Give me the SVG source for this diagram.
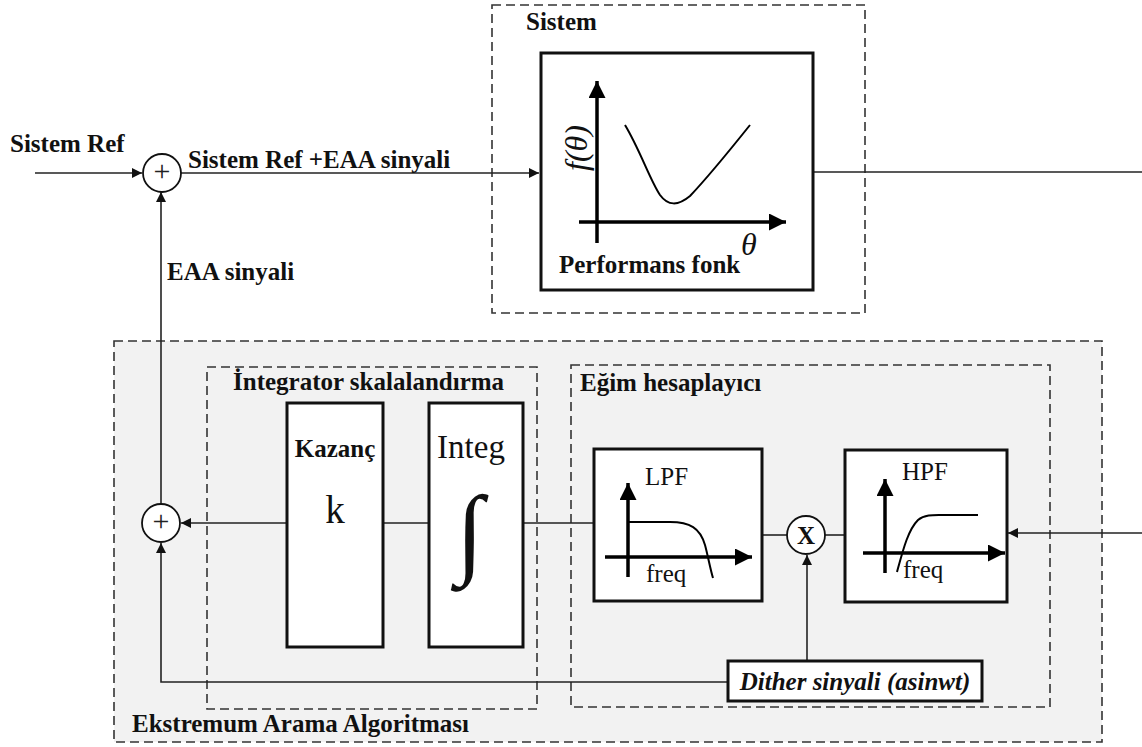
<svg xmlns="http://www.w3.org/2000/svg" width="1142" height="747" viewBox="0 0 1142 747">
<defs>
<marker id="arr" viewBox="0 0 10 10" refX="10" refY="5" markerWidth="11" markerHeight="10" markerUnits="userSpaceOnUse" orient="auto"><path d="M0,0 L10,5 L0,10 z" fill="#111"/></marker>
<marker id="axa" viewBox="0 0 10 10" refX="10" refY="5" markerWidth="23" markerHeight="17" markerUnits="userSpaceOnUse" orient="auto"><path d="M0,0 L10,5 L0,10 z" fill="#000"/></marker>
</defs>
<style>
.dash{fill:none;stroke:#333;stroke-width:1.6;stroke-dasharray:9 5}
.blk{fill:#fff;stroke:#111;stroke-width:3}
.ln{fill:none;stroke:#222;stroke-width:1.6}
.ax{fill:none;stroke:#000;stroke-width:3.5}
.cv{fill:none;stroke:#000;stroke-width:2}
.sum{fill:#fff;stroke:#111;stroke-width:1.8}
.b{font-family:"Liberation Serif","Times New Roman",serif;font-weight:bold;font-size:25px;fill:#111}
.r{font-family:"Liberation Serif","Times New Roman",serif;font-size:25px;fill:#111}
.plus{font-family:"Liberation Serif","Times New Roman",serif;font-size:30px;fill:#222}
</style>
<rect width="1142" height="747" fill="#fff"/>

<g id="eaa-group">
<rect x="114" y="341" width="988" height="401" class="dash" style="fill:#f2f2f2"/>
<text class="b" x="132" y="732">Ekstremum Arama Algoritması</text>
</g>
<g id="integrator-group">
<rect x="207" y="367" width="330" height="342" class="dash"/>
<text class="b" x="233" y="390">İntegrator skalalandırma</text>
</g>
<g id="egim-group">
<rect x="571" y="365" width="479" height="342" class="dash"/>
<text class="b" x="580" y="391">Eğim hesaplayıcı</text>
</g>
<g id="sistem-group">
<rect x="492" y="5" width="373" height="308" class="dash"/>
<text class="b" x="526" y="30">Sistem</text>
</g>

<g id="connectors">
<line class="ln" x1="35" y1="173" x2="142" y2="173" marker-end="url(#arr)"/>
<line class="ln" x1="181" y1="173" x2="539" y2="173" marker-end="url(#arr)"/>
<line class="ln" x1="813" y1="172" x2="1142" y2="172"/>
<line class="ln" x1="161" y1="504" x2="161" y2="192" marker-end="url(#arr)"/>
<line class="ln" x1="287" y1="523" x2="181" y2="523" marker-end="url(#arr)"/>
<line class="ln" x1="383" y1="523" x2="429" y2="523"/>
<line class="ln" x1="523" y1="523" x2="594" y2="523"/>
<line class="ln" x1="762" y1="535" x2="787" y2="535"/>
<line class="ln" x1="825" y1="535" x2="845" y2="535"/>
<line class="ln" x1="1142" y1="533" x2="1008" y2="533" marker-end="url(#arr)"/>
<line class="ln" x1="807" y1="661" x2="807" y2="555" marker-end="url(#arr)"/>
<polyline class="ln" points="728,682 161,682 161,543" marker-end="url(#arr)"/>
</g>

<g id="sum-top">
<circle class="sum" cx="162" cy="173" r="19"/>
<text class="plus" x="162" y="181" text-anchor="middle">+</text>
</g>
<g id="sum-bottom">
<circle class="sum" cx="161" cy="523" r="19"/>
<text class="plus" x="161" y="531" text-anchor="middle">+</text>
</g>

<g id="sistem">
<rect class="blk" x="541" y="53" width="272" height="237"/>
<line class="ax" x1="597" y1="243" x2="597" y2="81" marker-end="url(#axa)"/>
<line class="ax" x1="579" y1="222" x2="786" y2="222" marker-end="url(#axa)"/>
<path class="cv" d="M625,125 C640,150 650,180 660,195 C668,206 678,206 690,196 C710,175 730,150 750,125"/>
<text class="r" transform="translate(587,148) rotate(-90)" text-anchor="middle" style="font-size:32px;font-style:italic">f(θ)</text>
<text class="r" x="741" y="255" style="font-size:32px;font-style:italic">θ</text>
<text class="b" x="559" y="273">Performans fonk</text>
</g>

<g id="kazanc">
<rect class="blk" x="287" y="403" width="96" height="244"/>
<text class="b" x="335" y="457" text-anchor="middle">Kazanç</text>
<text class="r" x="335" y="523" text-anchor="middle" style="font-size:39px">k</text>
</g>

<g id="integ">
<rect class="blk" x="429" y="403" width="94" height="244"/>
<text class="r" x="471" y="458" text-anchor="middle" style="font-size:33px">Integ</text>
<text class="r" x="470" y="565" text-anchor="middle" style="font-size:100px">∫</text>
</g>

<g id="lpf">
<rect class="blk" x="594" y="449" width="168" height="152"/>
<line class="ax" x1="628" y1="577" x2="628" y2="483" marker-end="url(#axa)"/>
<line class="ax" x1="605" y1="557" x2="752" y2="557" marker-end="url(#axa)"/>
<path class="cv" d="M628,522 L670,522 C690,522 700,528 705,545 C708,556 710,568 713,578"/>
<text class="r" x="645" y="485">LPF</text>
<text class="r" x="646" y="582">freq</text>
</g>

<g id="mult">
<circle class="sum" cx="806" cy="535" r="19"/>
<text class="b" x="806" y="544" text-anchor="middle">X</text>
</g>

<g id="hpf">
<rect class="blk" x="845" y="450" width="162" height="152"/>
<line class="ax" x1="885" y1="573" x2="885" y2="479" marker-end="url(#axa)"/>
<line class="ax" x1="863" y1="553" x2="1005" y2="553" marker-end="url(#axa)"/>
<path class="cv" d="M897,572 C903,550 908,530 918,520 C925,514 935,515 945,515 L978,515"/>
<text class="r" x="902" y="480">HPF</text>
<text class="r" x="903" y="578">freq</text>
</g>

<g id="dither">
<rect class="blk" x="728" y="661" width="254" height="40"/>
<text class="b" x="855" y="690" text-anchor="middle" style="font-style:italic">Dither sinyali (asinwt)</text>
</g>

<g id="labels">
<text class="b" x="10" y="152">Sistem Ref</text>
<text class="b" x="188" y="168">Sistem Ref +EAA sinyali</text>
<text class="b" x="167" y="280">EAA sinyali</text>
</g>
</svg>
